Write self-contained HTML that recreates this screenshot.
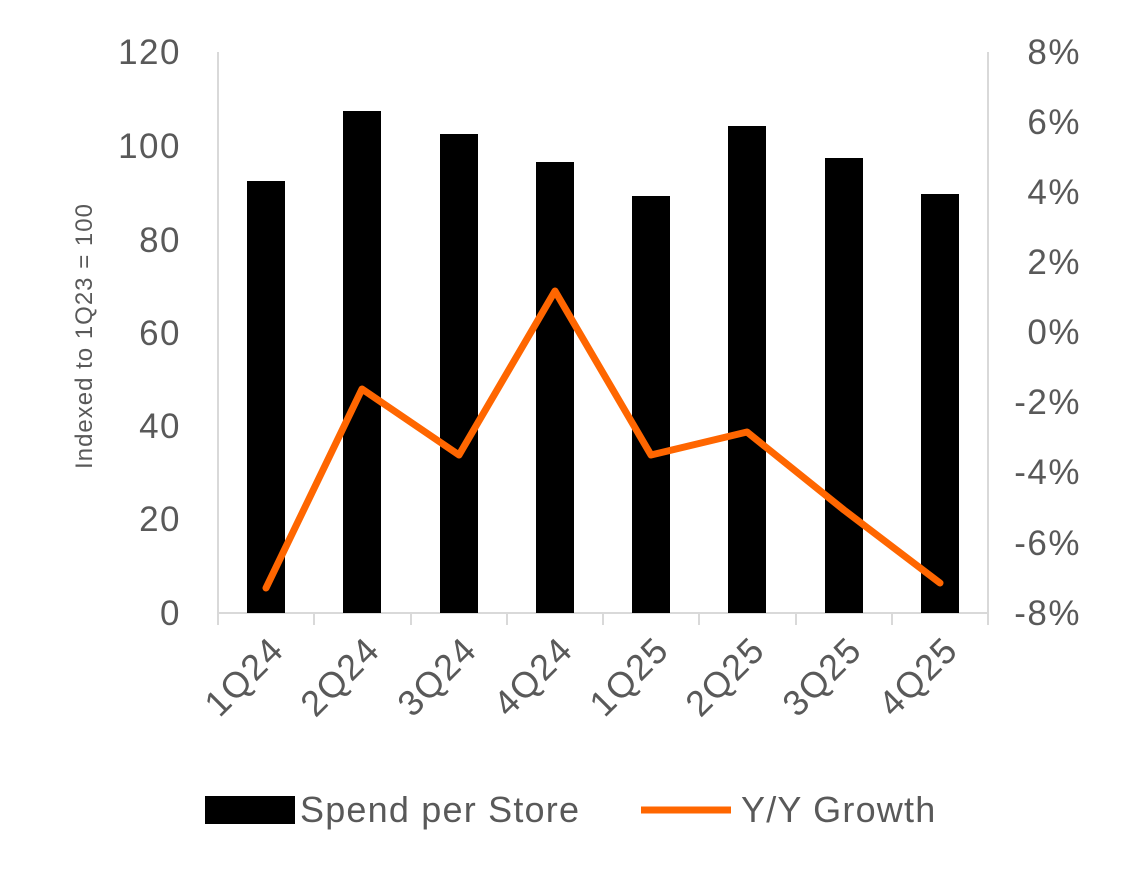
<!DOCTYPE html>
<html><head><meta charset="utf-8"><style>
html,body{margin:0;padding:0;background:#fff;}
svg text{font-family:"Liberation Sans",Arial,sans-serif;fill:#595959;}
</style></head><body>
<svg width="1132" height="880" viewBox="0 0 1132 880" xmlns="http://www.w3.org/2000/svg">
<rect width="1132" height="880" fill="#fff"/>
<line x1="218" y1="52" x2="218" y2="613" stroke="#d9d9d9" stroke-width="2"/>
<line x1="218" y1="613" x2="988" y2="613" stroke="#d9d9d9" stroke-width="2"/>
<line x1="988" y1="52" x2="988" y2="613" stroke="#d9d9d9" stroke-width="2"/>
<g stroke="#d9d9d9" stroke-width="2">
<line x1="218" y1="613" x2="218" y2="625"/><line x1="314" y1="613" x2="314" y2="625"/><line x1="411" y1="613" x2="411" y2="625"/><line x1="507" y1="613" x2="507" y2="625"/><line x1="603" y1="613" x2="603" y2="625"/><line x1="699" y1="613" x2="699" y2="625"/><line x1="796" y1="613" x2="796" y2="625"/><line x1="892" y1="613" x2="892" y2="625"/><line x1="988" y1="613" x2="988" y2="625"/>
</g>
<g font-size="35" text-anchor="end" letter-spacing="1.5">
<text x="181" y="64">120</text><text x="181" y="158">100</text><text x="181" y="252">80</text><text x="181" y="345">60</text><text x="181" y="438">40</text><text x="181" y="531">20</text><text x="181" y="625">0</text>
</g>
<g font-size="35" text-anchor="end" letter-spacing="1.5">
<text x="1081" y="64">8%</text><text x="1081" y="134">6%</text><text x="1081" y="204">4%</text><text x="1081" y="274">2%</text><text x="1081" y="344">0%</text><text x="1081" y="414">-2%</text><text x="1081" y="484">-4%</text><text x="1081" y="555">-6%</text><text x="1081" y="625">-8%</text>
</g>
<text x="0" y="0" font-size="24" letter-spacing="1" text-anchor="middle" transform="translate(92,336) rotate(-90)">Indexed to 1Q23 = 100</text>
<g fill="#000">
<rect x="247" y="181" width="38" height="432"/>
<rect x="343" y="111" width="38" height="502"/>
<rect x="440" y="134" width="38" height="479"/>
<rect x="536" y="162" width="38" height="451"/>
<rect x="632" y="196" width="38" height="417"/>
<rect x="728" y="126" width="38" height="487"/>
<rect x="825" y="158" width="38" height="455"/>
<rect x="921" y="194" width="38" height="419"/>
</g>
<polyline points="266,588 362,389 459,455 555,291 651,455 747,432 844,510 940,583" fill="none" stroke="#ff6600" stroke-width="7" stroke-linejoin="round" stroke-linecap="round"/>
<g font-size="36" text-anchor="end" letter-spacing="1.5">
<text transform="translate(286,652) rotate(-45)">1Q24</text>
<text transform="translate(382,652) rotate(-45)">2Q24</text>
<text transform="translate(479,652) rotate(-45)">3Q24</text>
<text transform="translate(575,652) rotate(-45)">4Q24</text>
<text transform="translate(671,652) rotate(-45)">1Q25</text>
<text transform="translate(767,652) rotate(-45)">2Q25</text>
<text transform="translate(864,652) rotate(-45)">3Q25</text>
<text transform="translate(960,652) rotate(-45)">4Q25</text>
</g>
<rect x="205" y="796" width="90" height="28" fill="#000"/>
<text x="300" y="822" font-size="36" letter-spacing="1.2">Spend per Store</text>
<line x1="641" y1="810" x2="731" y2="810" stroke="#ff6600" stroke-width="7"/>
<text x="741" y="822" font-size="36" letter-spacing="1.2">Y/Y Growth</text>
</svg>
</body></html>
